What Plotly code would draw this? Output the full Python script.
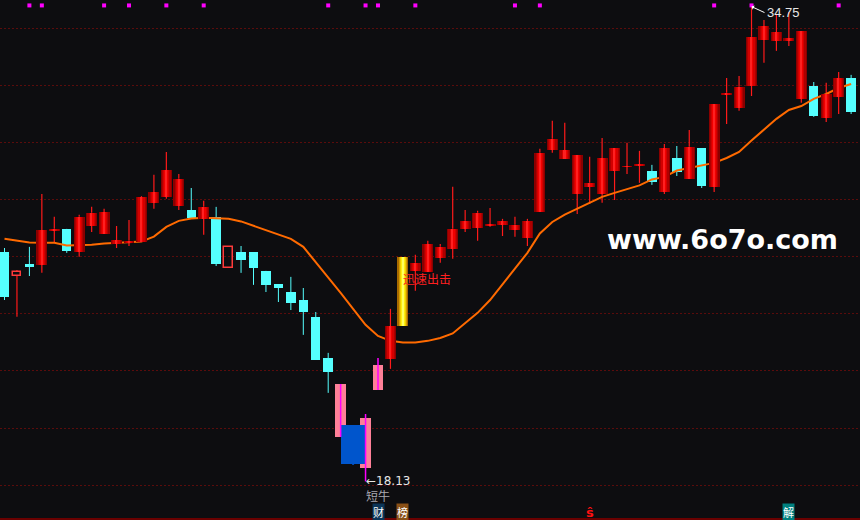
import plotly.graph_objects as go

# ---------------- data (prices) ----------------
opens = [26.16, 25.32, 25.74, 25.71, 26.90, 26.97, 26.16, 27.07, 26.79, 26.44,
         26.48, 26.51, 27.88, 28.09, 27.77, 27.63, 27.32, 27.39, 25.60, 26.16,
         26.16, 25.50, 25.04, 24.76, 24.48, 23.89, 22.45, 21.54, 20.10, 20.35,
         22.21, 22.42, 23.57, 25.50, 25.46, 25.95, 26.27, 26.97, 27.00, 27.07,
         27.11, 26.93, 26.65, 27.56, 29.73, 29.42, 28.19, 28.44, 28.19, 29.00,
         29.14, 29.17, 29.00, 28.26, 29.45, 28.72, 29.80, 28.44, 31.66, 31.20,
         31.97, 33.58, 33.55, 33.55, 31.52, 31.97, 30.85, 31.59, 32.25]
highs = [26.30, 25.53, 26.34, 28.19, 27.39, 26.97, 27.46, 27.74, 27.67, 27.07,
         27.28, 28.12, 28.86, 29.66, 28.89, 28.40, 27.95, 27.74, 26.34, 26.37,
         26.16, 25.50, 25.04, 25.29, 24.90, 24.06, 22.63, 21.54, 20.10, 20.49,
         22.45, 24.17, 25.99, 26.06, 26.55, 26.44, 28.44, 27.63, 27.60, 27.70,
         27.32, 27.39, 27.32, 29.77, 30.75, 30.68, 29.56, 29.49, 30.15, 29.80,
         29.98, 29.70, 29.21, 29.94, 29.87, 30.43, 29.80, 31.34, 32.25, 32.32,
         34.75, 34.28, 34.46, 34.56, 33.90, 32.11, 32.08, 32.46, 32.36]
lows = [24.48, 23.89, 25.32, 25.43, 26.48, 26.13, 25.99, 26.86, 26.79, 26.30,
        26.37, 26.51, 27.67, 28.02, 27.63, 27.35, 26.76, 25.67, 25.60, 25.43,
        25.01, 24.76, 24.41, 24.13, 23.26, 22.38, 21.23, 19.69, 18.71, 18.13,
        21.33, 22.07, 23.57, 24.80, 25.46, 25.78, 25.92, 26.86, 26.55, 27.04,
        26.72, 26.69, 26.37, 27.56, 29.63, 29.42, 27.49, 27.84, 27.88, 27.98,
        28.89, 28.58, 28.51, 28.19, 28.82, 28.72, 28.40, 28.26, 30.64, 31.10,
        31.62, 32.78, 33.20, 33.37, 31.38, 30.89, 30.71, 30.99, 30.99]
closes = [24.58, 25.46, 25.64, 26.93, 26.97, 26.20, 27.39, 27.53, 27.56, 26.58,
          26.55, 28.09, 28.26, 29.03, 28.72, 27.35, 27.74, 25.74, 26.34, 25.88,
          25.60, 25.01, 24.90, 24.38, 24.06, 22.38, 21.96, 19.69, 18.74, 18.60,
          21.33, 23.57, 25.99, 25.78, 26.44, 26.34, 26.97, 27.25, 27.53, 27.11,
          27.25, 27.11, 27.25, 29.63, 30.12, 29.73, 29.56, 28.58, 29.45, 29.80,
          29.17, 29.24, 28.61, 29.80, 28.96, 29.84, 28.47, 31.34, 31.73, 31.94,
          33.69, 34.07, 33.86, 33.65, 33.90, 30.92, 31.69, 32.25, 31.06]
kinds = ["down", "hollow", "down", "up", "up", "down", "up", "up", "up", "up",
         "up", "up", "up", "up", "up", "down", "up", "down", "hollow", "down",
         "down", "down", "down", "down", "down", "down", "down", "pink", "blue", "pink",
         "pink", "up", "gold", "up", "up", "up", "up", "up", "up", "up",
         "up", "up", "up", "up", "up", "up", "up", "up", "up", "up",
         "up", "up", "down", "up", "down", "up", "down", "up", "up", "up",
         "up", "up", "up", "up", "up", "down", "up", "up", "down"]
ma = [26.62, 26.55, 26.49, 26.48, 26.48, 26.39, 26.39, 26.41, 26.46, 26.48,
      26.49, 26.53, 26.70, 27.04, 27.25, 27.33, 27.36, 27.35, 27.32, 27.23,
      27.08, 26.93, 26.79, 26.62, 26.34, 25.81, 25.29, 24.73, 24.17, 23.61,
      23.22, 23.05, 22.99, 22.99, 23.05, 23.15, 23.31, 23.68, 24.03, 24.48,
      25.04, 25.58, 26.13, 26.81, 27.21, 27.47, 27.68, 27.89, 28.09, 28.23,
      28.35, 28.49, 28.70, 28.79, 29.01, 29.10, 29.17, 29.28, 29.45, 29.66,
      30.06, 30.45, 30.82, 31.13, 31.27, 31.52, 31.69, 31.90, 32.04]
signal_idx = [2, 3, 8, 10, 13, 16, 26, 29, 30, 33, 41, 43, 57, 60, 67]
low_value = 18.13
high_value = 34.75
grid_levels = [18, 20, 22, 24, 26, 28, 30, 32, 34]

# ---------------- layout constants ----------------
BG = "#0D0D10"
Y_RANGE = [16.78, 34.98]
X_RANGE = [-0.3614, 68.714]
WIDTH = {"up": 0.88, "down": 0.76, "hollow": 0.66, "pink": 0.88, "blue": 2.0, "gold": 0.88}

n = len(opens)
idx = list(range(n))


def sel(kind):
    return [i for i in idx if kinds[i] == kind]


def bodies(ids):
    base = [min(opens[i], closes[i]) for i in ids]
    h = [max(abs(closes[i] - opens[i]), 0.03) for i in ids]
    return base, h


def wicks(ids, split=True):
    xs, ys = [], []
    for i in ids:
        top = max(opens[i], closes[i])
        bot = min(opens[i], closes[i])
        if split:
            if highs[i] > top:
                xs += [i, i, None]
                ys += [top, highs[i], None]
            if lows[i] < bot:
                xs += [i, i, None]
                ys += [lows[i], bot, None]
        else:
            xs += [i, i, None]
            ys += [lows[i], highs[i], None]
    return xs, ys


fig = go.Figure()

# ---- main subplot: cyan bodies, wicks, moving average ----
d = sel("down")
b, h = bodies(d)
fig.add_trace(go.Bar(x=d, y=h, base=b, width=WIDTH["down"], marker=dict(color="#55FFFF", line=dict(width=0)),
                     hoverinfo="skip", xaxis="x", yaxis="y"))
wx, wy = wicks(d, split=False)
fig.add_trace(go.Scatter(x=wx, y=wy, mode="lines", line=dict(color="#55FFFF", width=1), hoverinfo="skip"))
u = sel("up") + sel("hollow")
wx, wy = wicks(u)
fig.add_trace(go.Scatter(x=wx, y=wy, mode="lines", line=dict(color="#FF1A1A", width=1.2), hoverinfo="skip"))
bl = sel("blue")
wx, wy = wicks(bl)
fig.add_trace(go.Scatter(x=wx, y=wy, mode="lines", line=dict(color="#0055CC", width=2), hoverinfo="skip"))
fig.add_trace(go.Scatter(x=idx, y=ma, mode="lines", line=dict(color="#FF6A00", width=2), hoverinfo="skip"))

# ---- overlay subplot (drawn above): red / gold gradient bodies, specials ----
u = sel("up")
b, h = bodies(u)
for frac, col in [(1.0, "#8A0000"), (0.78, "#AE0000"), (0.56, "#D20000"), (0.34, "#F00000"), (0.14, "#FF2020")]:
    fig.add_trace(go.Bar(x=u, y=h, base=b, width=WIDTH["up"] * frac, marker=dict(color=col, line=dict(width=0)),
                         hoverinfo="skip", xaxis="x2", yaxis="y2"))
g = sel("gold")
b, h = bodies(g)
for frac, col in [(1.0, "#A86A00"), (0.78, "#D49C00"), (0.56, "#F0CC00"), (0.34, "#FFEE10"), (0.14, "#FFFF60")]:
    fig.add_trace(go.Bar(x=g, y=h, base=b, width=WIDTH["gold"] * frac, marker=dict(color=col, line=dict(width=0)),
                         hoverinfo="skip", xaxis="x2", yaxis="y2"))
ho = sel("hollow")
b, h = bodies(ho)
fig.add_trace(go.Bar(x=ho, y=h, base=b, width=WIDTH["hollow"],
                     marker=dict(color="rgba(0,0,0,0)", line=dict(color="#FF3B3B", width=1.5)),
                     hoverinfo="skip", xaxis="x2", yaxis="y2"))
p = sel("pink")
b, h = bodies(p)
fig.add_trace(go.Bar(x=p, y=h, base=b, width=WIDTH["pink"], marker=dict(color="#FF8098", line=dict(width=0)),
                     hoverinfo="skip", xaxis="x2", yaxis="y2"))
b, h = bodies(bl)
fig.add_trace(go.Bar(x=bl, y=h, base=b, width=WIDTH["blue"], marker=dict(color="#0055CC", line=dict(width=0)),
                     hoverinfo="skip", xaxis="x2", yaxis="y2"))
wx, wy = wicks(p, split=False)
fig.add_trace(go.Scatter(x=wx, y=wy, mode="lines", line=dict(color="#FF00FF", width=1.5), hoverinfo="skip",
                         xaxis="x2", yaxis="y2"))
sig_level = Y_RANGE[1] - 0.19
fig.add_trace(go.Scatter(x=signal_idx, y=[sig_level] * len(signal_idx), mode="markers",
                         marker=dict(symbol="square", size=4, color="#FF00FF", line=dict(width=0)),
                         hoverinfo="skip", xaxis="x2", yaxis="y2"))

# ---------------- annotations ----------------
ann = []
ann.append(dict(x=29, y=low_value, xref="x", yref="y", text="←" + f"{low_value:.2f}", showarrow=False,
                xanchor="left", yanchor="middle", xshift=-2,
                font=dict(family="DejaVu Sans", size=12, color="#E6E6E6")))
ann.append(dict(x=29, y=low_value - 0.5, xref="x", yref="y", text="短牛", showarrow=False,
                xanchor="left", yanchor="middle", xshift=-2,
                font=dict(family="Noto Sans CJK SC", size=12, color="#A8A8B0")))
ann.append(dict(x=32, y=25.23, xref="x", yref="y", text="迅速出击", showarrow=False,
                xanchor="left", yanchor="middle", xshift=-2,
                font=dict(family="Noto Sans CJK SC", size=12, color="#FF2020")))
ann.append(dict(x=60, y=high_value, xref="x", yref="y", text=f"{high_value:.2f}", showarrow=True,
                ax=13, ay=6, xanchor="left", yanchor="middle", arrowcolor="#FFFFFF", arrowwidth=1,
                arrowhead=1, arrowsize=0.8, standoff=0,
                font=dict(family="Liberation Sans", size=13, color="#E6E6E6")))
ann.append(dict(x=722 / 860, y=1 - 239.5 / 520, xref="paper", yref="paper", text="<b>www.6o7o.com</b>",
                showarrow=False, xanchor="center", yanchor="middle",
                font=dict(family="DejaVu Sans", size=27, color="#FFFFFF")))
for xi, txt, bg, col, fam, sz in [(30, "财", "#0B3558", "#FFFFFF", "Noto Sans CJK SC", 11),
                                  (32, "榜", "#8A5016", "#FFFFFF", "Noto Sans CJK SC", 11),
                                  (47, "<b>ŝ</b>", "rgba(0,0,0,0)", "#FF1010", "DejaVu Sans", 13),
                                  (63, "解", "#00807F", "#FFFFFF", "Noto Sans CJK SC", 11)]:
    ann.append(dict(x=xi, y=1 - 512 / 520, xref="x", yref="paper", text=txt, showarrow=False,
                    xanchor="center", yanchor="middle", bgcolor=bg, borderpad=0,
                    font=dict(family=fam, size=sz, color=col)))

axis_common = dict(showticklabels=False, zeroline=False, showline=False, fixedrange=True)
fig.update_layout(
    width=860, height=520,
    margin=dict(l=0, r=0, t=0, b=0),
    paper_bgcolor=BG, plot_bgcolor=BG,
    showlegend=False, barmode="overlay", bargap=0,
    xaxis=dict(range=X_RANGE, showgrid=False, **axis_common),
    yaxis=dict(range=Y_RANGE, showgrid=True, gridcolor="#5A0C0C", griddash="2px,2px", gridwidth=1,
               tickmode="array", tickvals=grid_levels, **axis_common),
    xaxis2=dict(range=X_RANGE, overlaying="x", showgrid=False, visible=False, **axis_common),
    yaxis2=dict(range=Y_RANGE, overlaying="y", showgrid=False, visible=False, **axis_common),
    annotations=ann,
    shapes=[dict(type="line", xref="paper", yref="paper", x0=0, x1=1, y0=0.002, y1=0.002,
                 line=dict(color="#6A0000", width=2))],
    hovermode=False,
)

fig.write_html("out.html", config={"displayModeBar": False},
               post_script="document.body.style.margin='0';document.body.style.padding='0';"
                           "document.body.style.overflow='hidden';document.body.style.background='#0D0D10';")
